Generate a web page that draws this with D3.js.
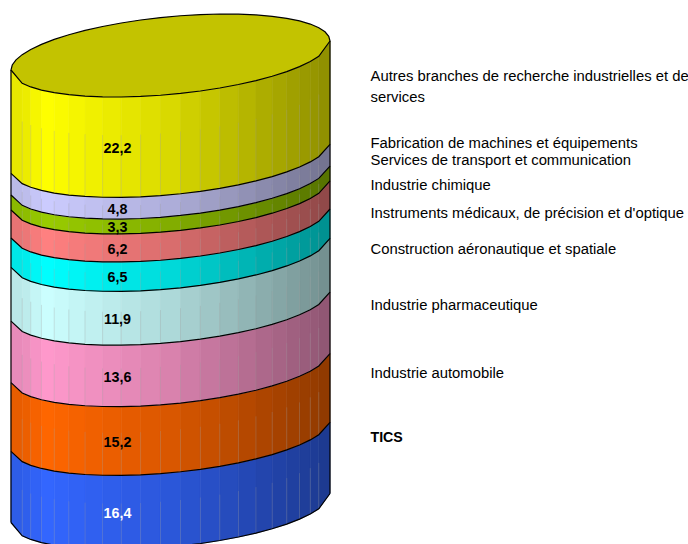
<!DOCTYPE html>
<html><head><meta charset="utf-8">
<script src="https://cdn.jsdelivr.net/npm/d3@7"></script>
<style>html,body{margin:0;padding:0;background:#fff}svg{display:block}</style>
</head><body><svg id="c" width="688" height="544"></svg>
<script>
const categories=["TICS","Industrie automobile","Industrie pharmaceutique","Construction aéronautique et spatiale","Instruments médicaux, de précision et d'optique","Industrie chimique","Services de transport et communication","Fabrication de machines et équipements","Autres branches de recherche industrielles et de services"];
const values=[16.4,15.2,13.6,11.9,6.5,6.2,3.3,4.8,22.2];
const valueLabels=["16,4","15,2","13,6","11,9","6,5","6,2","3,3","4,8","22,2"];
const colors=["#3366ff","#ff6600","#ff99cc","#ccffff","#00ffff","#ff8080","#99cc00","#ccccff","#ffff00"];
const labelColors=["#fff","#000","#000","#000","#000","#000","#000","#000","#000"];
const legendLines=[["TICS"],["Industrie automobile"],["Industrie pharmaceutique"],["Construction aéronautique et spatiale"],["Instruments médicaux, de précision et d'optique"],["Industrie chimique"],["Services de transport et communication"],["Fabrication de machines et équipements"],["Autres branches de recherche industrielles et de","services"]];
const legendCentres=[[437],[373],[305],[249],[213],[185],[160],[143],[76,97]];

const svg=d3.select("#c");
const total=d3.sum(values);
const stack=[0];values.forEach(v=>stack.push(stack[stack.length-1]+v));
const xs=d3.scaleLinear().domain([-1,1]).range([11,330]);
const yv=d3.scaleLinear().domain([0,total]).range([522.5,70]);
const tilt=14.5,depth=38.9,endDrop=3,deg=Math.PI/180;
const inner=d3.range(21.6,162.01,7.2);
const angles=[0,...inner,180];
const ptX=a=>xs(-Math.cos(a*deg));
const ptY=(v,a)=>yv(v)-tilt+tilt*Math.cos(a*deg)+depth*Math.sin(a*deg)
  +((a===0||a===180)&&v>0&&v<total-1e-6?endDrop:0);
const shade=d3.scaleLinear().domain([11,28,45,170,330]).range([0.9,0.93,1,0.85,0.56]).clamp(true);
const tint=(col,k)=>{const c=d3.rgb(col);return d3.rgb(c.r*k,c.g*k,c.b*k).formatHex();};
const line=d3.line();

values.forEach((v,i)=>{
  const g=svg.append("g");
  const lo=stack[i],hi=stack[i+1];
  d3.pairs(angles).forEach(([a,b])=>{
    const mid=(ptX(a)+ptX(b))/2,f=tint(colors[i],shade(mid));
    g.append("path").attr("d",line([[ptX(a),ptY(hi,a)],[ptX(b),ptY(hi,b)],[ptX(b),ptY(lo,b)],[ptX(a),ptY(lo,a)]])+"Z")
      .attr("fill",f).attr("stroke",f).attr("stroke-width",0.6);
  });
  inner.forEach(a=>{
    g.append("line").attr("x1",ptX(a)).attr("x2",ptX(a))
      .attr("y1",ptY(lo,a)+(ptY(hi,a)-ptY(lo,a))*0.62).attr("y2",ptY(lo,a))
      .attr("stroke","#999").attr("stroke-opacity",0.28).attr("stroke-width",1);
  });
  g.append("path").attr("d",line(angles.map(a=>[ptX(a),ptY(lo,a)]))).attr("fill","none").attr("stroke","#000").attr("stroke-width",1.2);
});
const ring=[...angles,...d3.range(7.2,172.81,7.2).map(a=>a+180)];
svg.append("path").attr("d",line(ring.map(a=>[ptX(a),ptY(total,a)]))+"Z")
  .attr("fill",tint(colors[8],0.765)).attr("stroke","#000").attr("stroke-width",1.2);
[0,180].forEach(a=>svg.append("path").attr("d",line([[ptX(a),ptY(total,a)],[ptX(a),ptY(0,a)]])).attr("stroke","#000").attr("stroke-width",1.2).attr("fill","none"));

const labelX=117.5,labelAngle=Math.acos(-xs.invert(labelX))/deg;
values.forEach((v,i)=>{
  svg.append("text").attr("x",labelX).attr("y",ptY(stack[i]+v/2,labelAngle)+0.6).attr("dy","0.36em")
    .attr("text-anchor","middle").attr("font-family","Liberation Sans").attr("font-weight","bold").attr("font-size",14.3)
    .attr("fill",labelColors[i]).text(valueLabels[i]);
});
const legend=svg.append("g").attr("font-family","Liberation Sans").attr("fill","#000");
categories.forEach((c,i)=>{
  legendLines[i].forEach((t,j)=>{
    legend.append("text").attr("x",370.5).attr("y",legendCentres[i][j]).attr("dy","0.36em")
      .attr("font-size",i===0?14.2:14.83).attr("font-weight",i===0?"bold":"normal").text(t);
  });
});
</script></body></html>
